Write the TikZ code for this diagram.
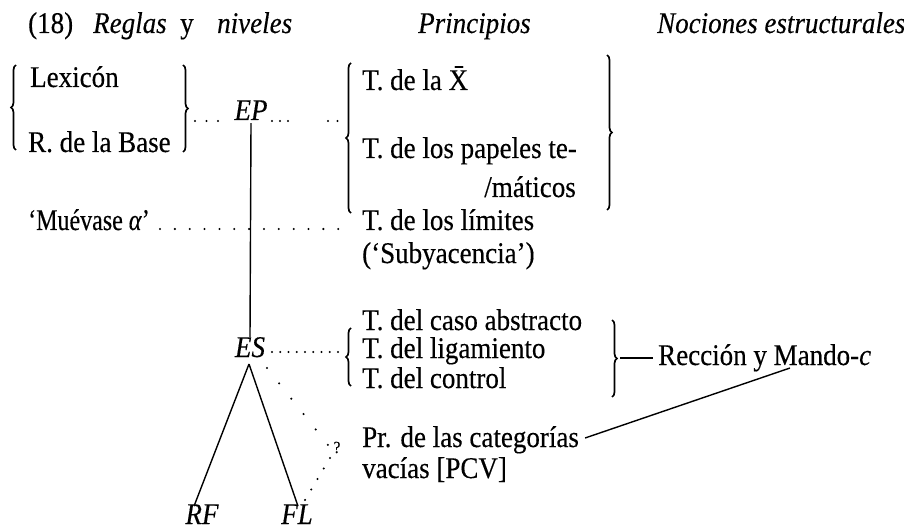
\documentclass[tikz,border=0pt]{standalone}
\usepackage{fontspec}
\setmainfont{Liberation Serif}[FakeStretch=0.9,FakeBold=0.3]
\usetikzlibrary{decorations.pathreplacing}
\begin{document}
\begin{tikzpicture}[x=1pt,y=-1pt,
  txt/.style={anchor=base west,inner sep=0pt,font=\fontsize{30}{34}\selectfont},
  itx/.style={anchor=base west,inner sep=0pt,font=\fontsize{30}{34}\selectfont\itshape},
  lvl/.style={anchor=base,inner sep=0pt,font=\fontsize{30}{34}\selectfont\itshape},
  brc/.style={decorate,decoration={brace,amplitude=5pt},line width=1.7pt},
  ln/.style={line width=1.4pt},
  dotrow/.style={line width=2.3pt,line cap=round,dash pattern=on 0pt off #1},
  dotrow/.default=11pt]
\useasboundingbox (0,0) rectangle (904,529);
% header
\node[txt] (h18) at (28,33) {(18)};
\node[itx] (hreg) at (93,33) {Reglas};
\node[txt] (hy) at (180,33) {y};
\node[itx] (hniv) at (217,33) {niveles};
\node[itx] (hpri) at (418,33) {Principios};
\node[itx] (hnoc) at (657,33) {Nociones estructurales};
% left column
\node[txt] (lex) at (30,87) {Lexicón};
\node[txt] (rbase) at (28,152) {R. de la Base};
\node[txt,font=\fontsize{30}{34}\selectfont\addfontfeature{FakeStretch=0.8}] (mue) at (28,230) {‘Muévase \textit{α}’};
% levels
\node[lvl] (EP) at (251,120) {EP};
\node[lvl] (ES) at (250,357) {ES};
\node[lvl] (RF) at (202,524) {RF};
\node[lvl] (FL) at (297,524) {FL};
\node[anchor=base,inner sep=0pt,font=\fontsize{17}{20}\selectfont] (q) at (337,453) {?};
% principles
\node[txt] (tx) at (362,90) {T. de la \=X};
\node[txt] (tpap) at (362,158) {T. de los papeles te-};
\node[anchor=base east,inner sep=0pt,font=\fontsize{30}{34}\selectfont] (tmat) at (576,197) {/máticos};
\node[txt] (tlim) at (362,230) {T. de los límites};
\node[txt] (tsub) at (362,263) {(‘Subyacencia’)};
\node[txt] (tcas) at (362,330) {T. del caso abstracto};
\node[txt] (tlig) at (362,358) {T. del ligamiento};
\node[txt] (tcon) at (362,388) {T. del control};
\node[txt] (tcat) at (362,447) {Pr. de las categorías};
\node[txt] (tvac) at (362,478) {vacías [PCV]};
\node[txt,inner xsep=5pt] (rec) at (653,365) {Rección y Mando-\textit{c}};
% braces
\draw[brc] (16,150) -- (16,65);
\draw[brc] (183,65) -- (183,152);
\draw[brc] (351,213) -- (351,63);
\draw[brc] (607,55) -- (607,210);
\draw[brc] (351,386) -- (351,328);
\draw[brc] (612,320) -- (612,397);
\coordinate (b6tip) at (620,358);
% solid connectors
\draw[ln] ([yshift=-3pt]EP.south) -- (ES.north);
\coordinate (apex) at (249,364);
\draw[ln] (apex) -- ([xshift=-8pt,yshift=-2pt]RF.north);
\draw[ln] (apex) -- ([xshift=1pt,yshift=-2pt]FL.north);
\draw[ln] (b6tip) -- (b6tip -| rec.west);
\coordinate (mando) at (790,368);
\draw[ln] (mando) -- ([xshift=6pt,yshift=9pt]tcat.base east);
% dotted leaders
\draw[dotrow=11.5pt] (195,121) -- (219,121);
\draw[dotrow=8pt] (272,121) -- (288,121);
\draw[dotrow=9.5pt] (328,121) -- (347,121);
\draw[dotrow=14.85pt] (160,229) -- (353,229);
\draw[dotrow=8.25pt] (272,352) -- (338,352);
\draw[dotrow=19.6pt] (267,368) -- (328,445);
\draw[dotrow=12.2pt] (330,458) -- (305,500);
\end{tikzpicture}
\end{document}
